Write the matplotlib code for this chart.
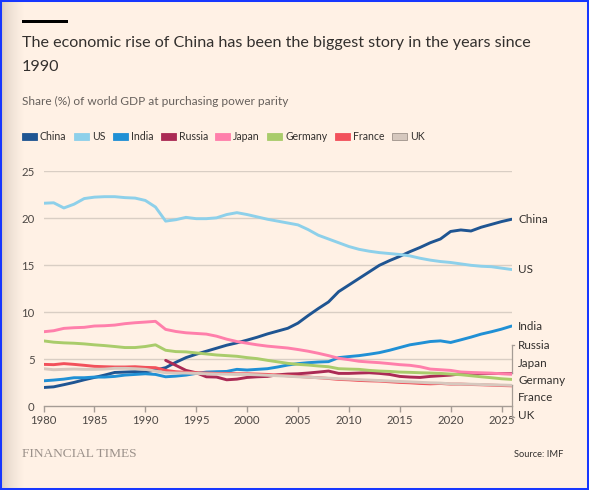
import numpy as np
import matplotlib
matplotlib.use("Agg")
import matplotlib.pyplot as plt
from matplotlib.patches import Rectangle
from matplotlib.lines import Line2D

# ---------------- data ----------------
years = list(range(1980, 2027))

china = [2.0, 2.07, 2.3, 2.54, 2.82, 3.07, 3.32, 3.6, 3.64, 3.68,
         3.64, 3.86, 4.11, 4.68, 5.18, 5.54, 5.86, 6.18, 6.5, 6.75,
         7.04, 7.35, 7.7, 8.0, 8.3, 8.85, 9.65, 10.4, 11.1, 12.2,
         12.9, 13.6, 14.3, 15.0, 15.5, 15.95, 16.45, 16.9, 17.4, 17.8,
         18.6, 18.76, 18.65, 19.05, 19.35, 19.65, 19.9]
us = [21.6, 21.65, 21.1, 21.5, 22.1, 22.25, 22.3, 22.3, 22.2, 22.15,
      21.9, 21.2, 19.7, 19.85, 20.1, 19.96, 19.96, 20.05, 20.4, 20.6,
      20.4, 20.15, 19.9, 19.7, 19.5, 19.3, 18.8, 18.2, 17.8, 17.4,
      17.0, 16.7, 16.5, 16.35, 16.25, 16.15, 16.0, 15.75, 15.55, 15.4,
      15.3, 15.15, 15.0, 14.9, 14.85, 14.7, 14.55]
india = [2.71, 2.79, 2.89, 3.04, 3.04, 3.11, 3.11, 3.18, 3.32, 3.39,
         3.46, 3.39, 3.14, 3.21, 3.32, 3.5, 3.64, 3.68, 3.71, 3.93,
         3.86, 3.93, 4.0, 4.18, 4.39, 4.54, 4.64, 4.71, 4.75, 5.18,
         5.29, 5.39, 5.54, 5.71, 5.96, 6.25, 6.54, 6.71, 6.89, 6.96,
         6.79, 7.07, 7.36, 7.68, 7.93, 8.21, 8.54]
russia = [None] * 12 + [4.89, 4.36, 3.82, 3.57, 3.14, 3.11, 2.82, 2.89,
          3.07, 3.14, 3.18, 3.35, 3.43, 3.46, 3.54, 3.64, 3.75, 3.5,
          3.5, 3.54, 3.57, 3.5, 3.39, 3.18, 3.11, 3.07, 3.18, 3.25,
          3.32, 3.45, 3.5, 3.5, 3.5, 3.48, 3.47]
japan = [7.93, 8.04, 8.29, 8.36, 8.4, 8.54, 8.57, 8.64, 8.79, 8.89,
         8.96, 9.04, 8.18, 7.96, 7.82, 7.75, 7.68, 7.46, 7.14, 6.89,
         6.71, 6.54, 6.4, 6.3, 6.2, 6.04, 5.86, 5.64, 5.39, 5.11,
         4.96, 4.79, 4.71, 4.64, 4.54, 4.43, 4.36, 4.21, 3.96, 3.89,
         3.82, 3.65, 3.6, 3.56, 3.52, 3.47, 3.42]
germany = [6.96, 6.82, 6.75, 6.71, 6.64, 6.54, 6.46, 6.36, 6.25, 6.25,
           6.36, 6.54, 5.96, 5.82, 5.79, 5.68, 5.57, 5.46, 5.39, 5.32,
           5.18, 5.07, 4.89, 4.73, 4.57, 4.46, 4.39, 4.29, 4.21, 4.0,
           3.96, 3.93, 3.82, 3.75, 3.71, 3.64, 3.61, 3.57, 3.54, 3.5,
           3.43, 3.36, 3.25, 3.14, 3.04, 2.93, 2.86]
france = [4.46, 4.43, 4.54, 4.46, 4.36, 4.25, 4.21, 4.18, 4.18, 4.21,
          4.14, 4.11, 3.82, 3.68, 3.61, 3.57, 3.54, 3.5, 3.5, 3.46,
          3.46, 3.43, 3.39, 3.32, 3.25, 3.18, 3.11, 3.04, 2.96, 2.86,
          2.82, 2.75, 2.71, 2.68, 2.61, 2.54, 2.5, 2.43, 2.39, 2.43,
          2.36, 2.36, 2.32, 2.29, 2.25, 2.21, 2.18]
uk = [4.0, 3.89, 3.93, 3.96, 3.93, 3.93, 3.96, 4.04, 4.04, 4.0,
      3.93, 3.75, 3.57, 3.54, 3.54, 3.5, 3.46, 3.44, 3.42, 3.4,
      3.39, 3.35, 3.3, 3.25, 3.2, 3.14, 3.09, 3.04, 3.0, 2.93,
      2.89, 2.84, 2.79, 2.74, 2.69, 2.64, 2.6, 2.55, 2.5, 2.47,
      2.39, 2.37, 2.35, 2.32, 2.29, 2.26, 2.23]

names = ["China", "US", "India", "Russia", "Japan", "Germany", "France", "UK"]
series = [china, us, india, russia, japan, germany, france, uk]
colors = ["#1f5592", "#8dd0ea", "#2090d5", "#ab2b55", "#ff7fab", "#a9cc6b", "#f2515b", "#d6c8be"]

xticks = [1980, 1985, 1990, 1995, 2000, 2005, 2010, 2015, 2020, 2025]
yticks = [0, 5, 10, 15, 20, 25]

title_1 = "The economic rise of China has been the biggest story in the years since"
title_2 = "1990"
subtitle = "Share (%) of world GDP at purchasing power parity"
source = "Source: IMF"
brand = "FINANCIAL TIMES"

# ---------------- style ----------------
BG = "#fff1e5"
TXT = "#33302e"
SUB = "#66605c"
GRID = "#d9cec4"
AXC = "#a59c95"
FONT = "Lato"

W, H = 589, 490
DPI = 100
fig = plt.figure(figsize=(W / DPI, H / DPI), dpi=DPI, facecolor=BG)
plt.rcParams["font.family"] = [FONT, "DejaVu Sans"]


def fx(px):
    return px / W


def fy(py):
    return 1 - py / H


renderer = fig.canvas.get_renderer()


def fit(t, target_px):
    w = t.get_window_extent(renderer).width
    t.set_fontsize(t.get_fontsize() * target_px / w)


# left shadow
sh = fig.add_axes([fx(2), 0, fx(22), 1], zorder=-5)
grad = np.linspace(0, 1, 64)[None, :]
c0 = np.array([0xd9, 0xcc, 0xc0]) / 255
c1 = np.array([0xff, 0xf1, 0xe5]) / 255
img = c0[None, None, :] * (1 - grad[..., None] ** 0.6) + c1[None, None, :] * grad[..., None] ** 0.6
sh.imshow(img, aspect="auto", extent=[0, 1, 0, 1])
sh.axis("off")

# top bar
fig.add_artist(Rectangle((fx(22), fy(23.5)), fx(46), 3.5 / H, transform=fig.transFigure,
                         facecolor="#000000", edgecolor="none"))

t1 = fig.text(fx(22), fy(47.5), title_1, fontsize=12.5, color=TXT, va="baseline", ha="left")
fit(t1, 511)
fig.text(fx(22), fy(71), title_2, fontsize=t1.get_fontsize(), color=TXT, va="baseline", ha="left")

st = fig.text(fx(22), fy(101), subtitle, fontsize=9, color=SUB, va="center", ha="left")
fit(st, 268)

# legend
lx = 21.7
ly = 137
leg_fs = 7.6
for n, c in zip(names, colors):
    edge = "#9e928a" if n == "UK" else c
    fig.add_artist(Rectangle((fx(lx), fy(ly + 3.5)), fx(15), 7 / H, transform=fig.transFigure,
                             facecolor=c, edgecolor=edge, linewidth=0.6))
    tt = fig.text(fx(lx + 18), fy(ly), n, fontsize=leg_fs, color=TXT, va="center", ha="left")
    w = tt.get_window_extent(renderer).width
    lx = lx + 18 + w + 7.5

# ---------------- axes ----------------
L, R, T, B = 43.5, 511.7, 171.3, 406.3
ax = fig.add_axes([fx(L), fy(B), fx(R - L), (B - T) / H])
ax.set_facecolor(BG)
ax.set_xlim(1980, 2026)
ax.set_ylim(0, 25)

for y in yticks[1:]:
    ax.axhline(y, color=GRID, lw=1.0, zorder=1)

for n, s, c in zip(names, series, colors):
    ax.plot(years, np.array(s, dtype=float), color=c, lw=2.1, zorder=3,
            solid_capstyle="round", solid_joinstyle="round")

for sp in ["top", "right", "left"]:
    ax.spines[sp].set_visible(False)
ax.spines["bottom"].set_color(AXC)
ax.spines["bottom"].set_linewidth(1.0)

ax.set_xticks(xticks)
ax.set_xticklabels([str(x) for x in xticks])
ax.set_yticks(yticks)
ax.set_yticklabels([str(y) for y in yticks])
ax.tick_params(axis="x", length=4, width=1.0, color=AXC, pad=2.5, labelsize=8.2, labelcolor="#4d4845")
ax.tick_params(axis="y", length=0, pad=6.5, labelsize=8.2, labelcolor="#4d4845")

# right-hand labels
label_y = {"China": china[-1], "US": us[-1], "India": india[-1], "Russia": 6.5,
           "Japan": 4.6, "Germany": 2.7, "France": 0.89, "UK": -0.93}
for n in names:
    ax.annotate(n, xy=(2026, label_y[n]), xytext=(4.8, 0), textcoords="offset points",
                fontsize=8.4, color=TXT, va="center", ha="left", annotation_clip=False)

# brackets
bx = 2026.06
sx = 0.2
bk = dict(color=AXC, lw=0.9, clip_on=False, zorder=2)
ax.plot([bx, bx], [6.52, 3.5], **bk)
ax.plot([bx, bx + sx], [6.52, 6.52], **bk)
ax.plot([bx - sx, bx], [3.5, 3.5], **bk)
ax.plot([bx, bx], [2.27, -1.1], **bk)
ax.plot([bx - sx, bx], [2.27, 2.27], **bk)
ax.plot([bx, bx + sx], [-1.1, -1.1], **bk)

# footer
ft = fig.text(fx(21.7), fy(454), brand, fontsize=10, color="#9b918a", va="center", ha="left",
              family=["Liberation Serif", "DejaVu Serif"])
fit(ft, 115)
so = fig.text(fx(563.5), fy(454), source, fontsize=7.5, color=TXT, va="center", ha="right")
fit(so, 49)

# blue border
fig.add_artist(Rectangle((0, 0), 1, 1, transform=fig.transFigure, fill=False,
                         edgecolor="#1737ff", linewidth=2.9))

fig.savefig("out.png", dpi=DPI, facecolor=BG)
